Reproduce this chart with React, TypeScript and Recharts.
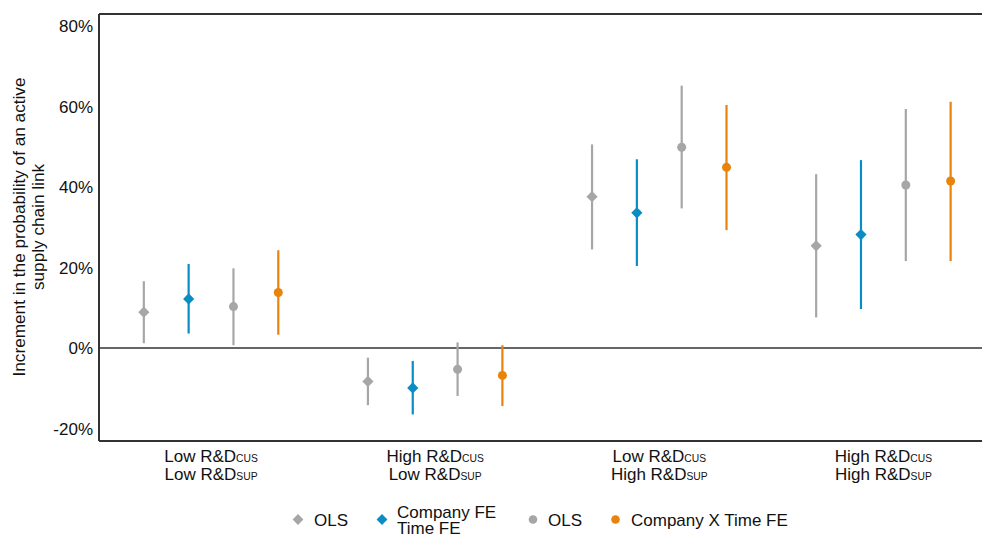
import React from "react";
import { ScatterChart, Scatter, XAxis, YAxis, ErrorBar, ReferenceLine } from "recharts";

const categories = [
  ["Low R&D", "CUS", "Low R&D", "SUP"],
  ["High R&D", "CUS", "Low R&D", "SUP"],
  ["Low R&D", "CUS", "High R&D", "SUP"],
  ["High R&D", "CUS", "High R&D", "SUP"],
];
const seriesNames = ["OLS", "Company FE\nTime FE", "OLS", "Company X Time FE"];
const seriesOffsets = [-0.3, -0.1, 0.1, 0.3];
const seriesColors = ["#a6a6a6", "#0a8dc4", "#a6a6a6", "#e8830c"];
const seriesShapes = ["diamond", "diamond", "circle", "circle"];

// point estimates (%)
const olsA = [8.9, -8.3, 37.6, 25.4];
const companyTimeFE = [12.2, -9.9, 33.6, 28.2];
const olsB = [10.3, -5.3, 49.9, 40.5];
const companyXTimeFE = [13.8, -6.8, 44.9, 41.5];
// confidence interval bounds (%)
const olsALow = [1.2, -14.2, 24.5, 7.6];
const olsAHigh = [16.6, -2.4, 50.6, 43.2];
const companyTimeFELow = [3.6, -16.5, 20.4, 9.7];
const companyTimeFEHigh = [20.9, -3.2, 46.9, 46.7];
const olsBLow = [0.7, -11.9, 34.7, 21.6];
const olsBHigh = [19.8, 1.4, 65.2, 59.4];
const companyXTimeFELow = [3.3, -14.4, 29.3, 21.6];
const companyXTimeFEHigh = [24.3, 0.7, 60.4, 61.2];

const yTicks = [-20, 0, 20, 40, 60, 80];

const allSeries = [
  [olsA, olsALow, olsAHigh],
  [companyTimeFE, companyTimeFELow, companyTimeFEHigh],
  [olsB, olsBLow, olsBHigh],
  [companyXTimeFE, companyXTimeFELow, companyXTimeFEHigh],
];

const FONT = "'Liberation Sans', Arial, sans-serif";

const seriesData = allSeries.map(([vals, lo, hi], si) =>
  vals.map((v, gi) => ({
    x: gi + 1 + seriesOffsets[si],
    y: v,
    err: [v - lo[gi], hi[gi] - v],
  }))
);

const makeShape = (kind: string, color: string) => (props: any) => {
  const { cx, cy } = props;
  if (cx == null || cy == null) return null;
  if (kind === "diamond") {
    const s = 5.6;
    return (
      <polygon
        points={`${cx},${cy - s} ${cx + s},${cy} ${cx},${cy + s} ${cx - s},${cy}`}
        fill={color}
      />
    );
  }
  return <circle cx={cx} cy={cy} r={4.5} fill={color} />;
};

const XTick = (props: any) => {
  const { x, y, payload } = props;
  const c = categories[(payload.value as number) - 1];
  if (!c) return null;
  return (
    <g>
      <text x={x} y={y + 21} textAnchor="middle" fontFamily={FONT} fontSize={17} fill="#111">
        <tspan>{c[0]}</tspan>
        <tspan fontSize={10.3}>{c[1]}</tspan>
      </text>
      <text x={x} y={y + 39} textAnchor="middle" fontFamily={FONT} fontSize={17} fill="#111">
        <tspan>{c[2]}</tspan>
        <tspan fontSize={10.3}>{c[3]}</tspan>
      </text>
    </g>
  );
};

const legendItems = [
  { kind: "diamond", color: seriesColors[0], mx: 298, tx: 314 },
  { kind: "diamond", color: seriesColors[1], mx: 382, tx: 397 },
  { kind: "circle", color: seriesColors[2], mx: 533, tx: 548 },
  { kind: "circle", color: seriesColors[3], mx: 615.5, tx: 631 },
];

export default function App() {
  return (
    <div style={{ position: "absolute", left: 0, top: 0, width: 982, height: 534, background: "#fff" }}>
      <ScatterChart width={982} height={534} margin={{ top: 14, right: 0, left: 0, bottom: 0 }}>
        <XAxis
          type="number"
          dataKey="x"
          domain={[0.5, 4.44]}
          ticks={[1, 2, 3, 4]}
          allowDataOverflow
          interval={0}
          height={93}
          tickLine={false}
          tickSize={0}
          tickMargin={0}
          axisLine={{ stroke: "#333", strokeWidth: 2 }}
          tick={<XTick />}
        />
        <YAxis
          type="number"
          dataKey="y"
          domain={[-23.1, 83]}
          ticks={yTicks}
          allowDataOverflow
          width={99}
          tickLine={false}
          tickSize={4}
          tickMargin={2}
          axisLine={{ stroke: "#333", strokeWidth: 2 }}
          tickFormatter={(v: number) => `${v}%`}
          tick={{ fontFamily: FONT, fontSize: 17, fill: "#111" }}
        />
        <ReferenceLine y={83} stroke="#333" strokeWidth={2} ifOverflow="extendDomain" />
        <ReferenceLine y={0} stroke="#333" strokeWidth={1.5} />
        {seriesData.map((d, si) => (
          <Scatter
            key={si}
            name={seriesNames[si]}
            data={d}
            fill={seriesColors[si]}
            isAnimationActive={false}
            shape={makeShape(seriesShapes[si], seriesColors[si])}
          >
            <ErrorBar
              dataKey="err"
              direction="y"
              width={0}
              stroke={seriesColors[si]}
              strokeWidth={2.2}
              isAnimationActive={false}
            />
          </Scatter>
        ))}
      </ScatterChart>
      <svg
        width={982}
        height={534}
        style={{ position: "absolute", left: 0, top: 0, pointerEvents: "none" }}
      >
        <text
          transform="translate(25,227) rotate(-90)"
          textAnchor="middle"
          fontFamily={FONT}
          fontSize={17.2}
          fill="#111"
        >
          <tspan x={0} dy={0}>Increment in the probability of an active</tspan>
          <tspan x={0} dy={18.5}>supply chain link</tspan>
        </text>
        {legendItems.map((it, i) => {
          const lines = seriesNames[i].split("\n");
          return (
            <g key={i}>
              {it.kind === "diamond" ? (
                <polygon
                  points={`${it.mx},${519.5 - 5.4} ${it.mx + 5.4},${519.5} ${it.mx},${519.5 + 5.4} ${it.mx - 5.4},${519.5}`}
                  fill={it.color}
                />
              ) : (
                <circle cx={it.mx} cy={519.5} r={4.3} fill={it.color} />
              )}
              {lines.length === 1 ? (
                <text x={it.tx} y={526} fontFamily={FONT} fontSize={17} fill="#111">
                  {lines[0]}
                </text>
              ) : (
                <text x={it.tx} fontFamily={FONT} fontSize={17} fill="#111">
                  <tspan x={it.tx} y={518}>{lines[0]}</tspan>
                  <tspan x={it.tx} y={534}>{lines[1]}</tspan>
                </text>
              )}
            </g>
          );
        })}
      </svg>
    </div>
  );
}
